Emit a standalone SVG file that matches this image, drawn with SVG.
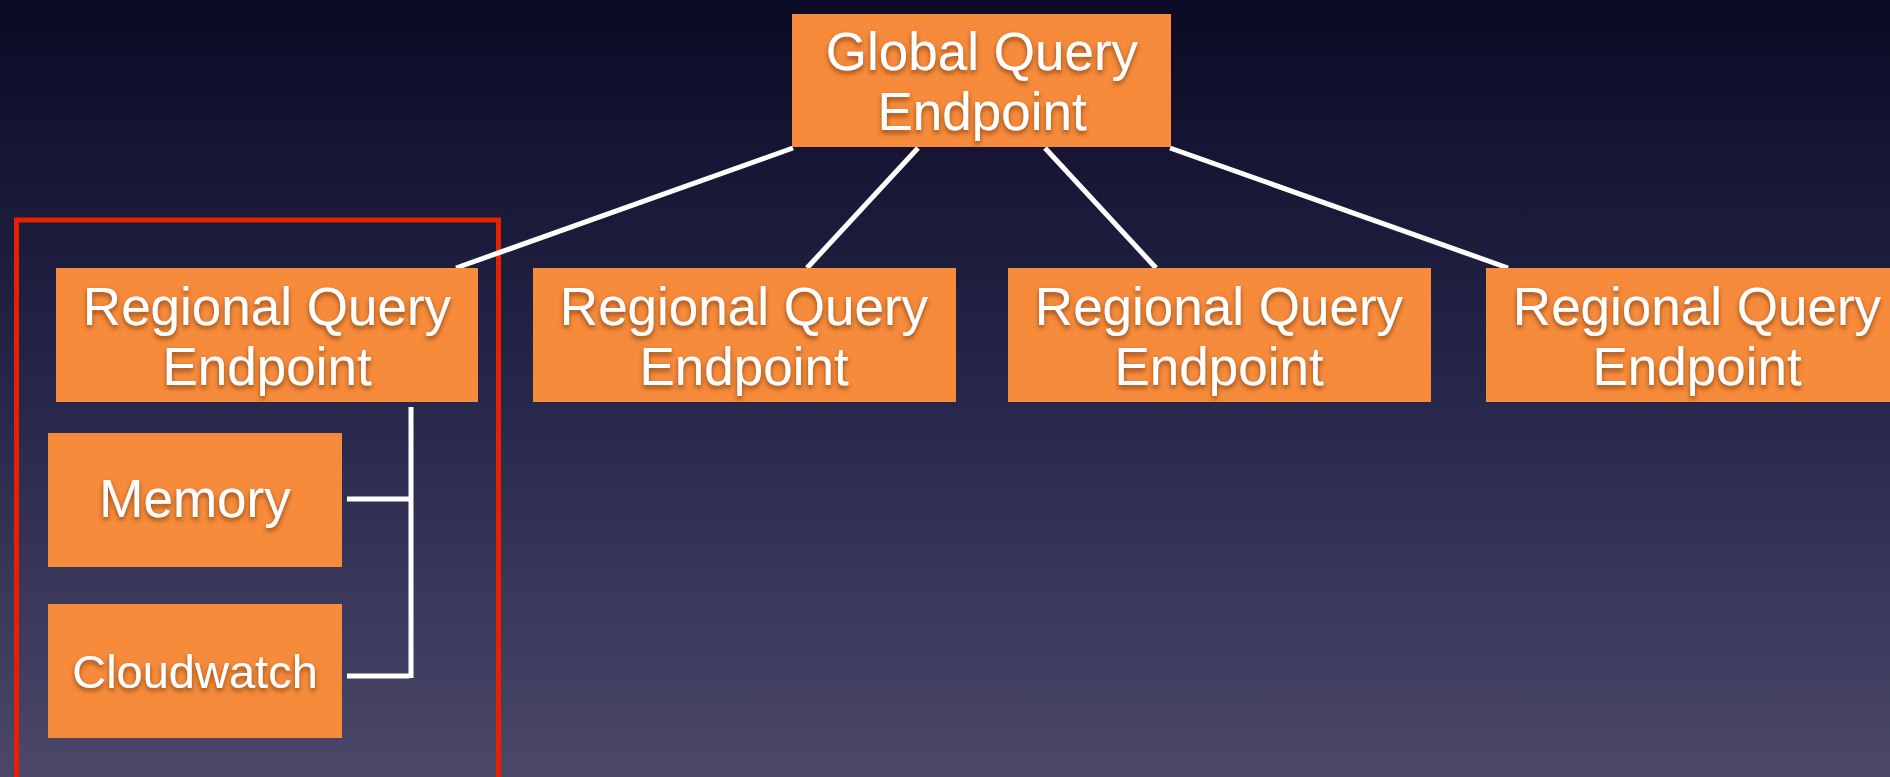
<svg xmlns="http://www.w3.org/2000/svg" width="1890" height="777" viewBox="0 0 1890 777">
  <defs>
    <linearGradient id="bg" x1="0" y1="0" x2="0" y2="1">
      <stop offset="0" stop-color="#0b0a24"/>
      <stop offset="0.5" stop-color="#26264a"/>
      <stop offset="1" stop-color="#4b4869"/>
    </linearGradient>
    <filter id="ts" x="-10%" y="-30%" width="120%" height="160%">
      <feGaussianBlur in="SourceAlpha" stdDeviation="2.5"/>
      <feOffset dx="0" dy="3" result="b"/>
      <feFlood flood-color="#7a3a10" flood-opacity="0.8"/>
      <feComposite in2="b" operator="in"/>
      <feMerge><feMergeNode/><feMergeNode in="SourceGraphic"/></feMerge>
    </filter>
  </defs>
  <style>
    .box { fill: #f68b3c; }
    .lbl { font-family: "Liberation Sans", Arial, sans-serif; font-size: 53px; fill: #ffffff; text-anchor: middle; filter: url(#ts); }
    .conn { stroke: #ffffff; stroke-width: 5; fill: none; }
  </style>
  <rect x="0" y="0" width="1890" height="777" fill="url(#bg)"/>

  <rect id="highlight" x="16.5" y="220" width="482" height="600" fill="none" stroke="#e82000" stroke-width="5"/>

  <g id="connectors">
    <line class="conn" x1="793" y1="148" x2="456" y2="268"/>
    <line class="conn" x1="918" y1="148" x2="807" y2="268"/>
    <line class="conn" x1="1045" y1="148" x2="1156" y2="268"/>
    <line class="conn" x1="1170" y1="148" x2="1508" y2="268"/>
    <line class="conn" x1="411" y1="407" x2="411" y2="678"/>
    <line class="conn" x1="347" y1="499" x2="409" y2="499"/>
    <line class="conn" x1="347" y1="676" x2="409" y2="676"/>
  </g>

  <g id="global">
    <rect class="box" x="792" y="14" width="379" height="133"/>
    <text class="lbl" x="982" y="70">Global Query</text>
    <text class="lbl" x="982" y="130">Endpoint</text>
  </g>

  <g id="regional1">
    <rect class="box" x="56" y="268" width="422" height="134"/>
    <text class="lbl" x="267" y="325">Regional Query</text>
    <text class="lbl" x="267" y="385">Endpoint</text>
  </g>
  <g id="regional2">
    <rect class="box" x="533" y="268" width="423" height="134"/>
    <text class="lbl" x="744" y="325">Regional Query</text>
    <text class="lbl" x="744" y="385">Endpoint</text>
  </g>
  <g id="regional3">
    <rect class="box" x="1008" y="268" width="423" height="134"/>
    <text class="lbl" x="1219" y="325">Regional Query</text>
    <text class="lbl" x="1219" y="385">Endpoint</text>
  </g>
  <g id="regional4">
    <rect class="box" x="1486" y="268" width="423" height="134"/>
    <text class="lbl" x="1697" y="325">Regional Query</text>
    <text class="lbl" x="1697" y="385">Endpoint</text>
  </g>

  <g id="memory">
    <rect class="box" x="48" y="433" width="294" height="134"/>
    <text class="lbl" x="195" y="517">Memory</text>
  </g>
  <g id="cloudwatch">
    <rect class="box" x="48" y="604" width="294" height="134"/>
    <text class="lbl" x="195" y="688" style="font-size:47px">Cloudwatch</text>
  </g>
</svg>
